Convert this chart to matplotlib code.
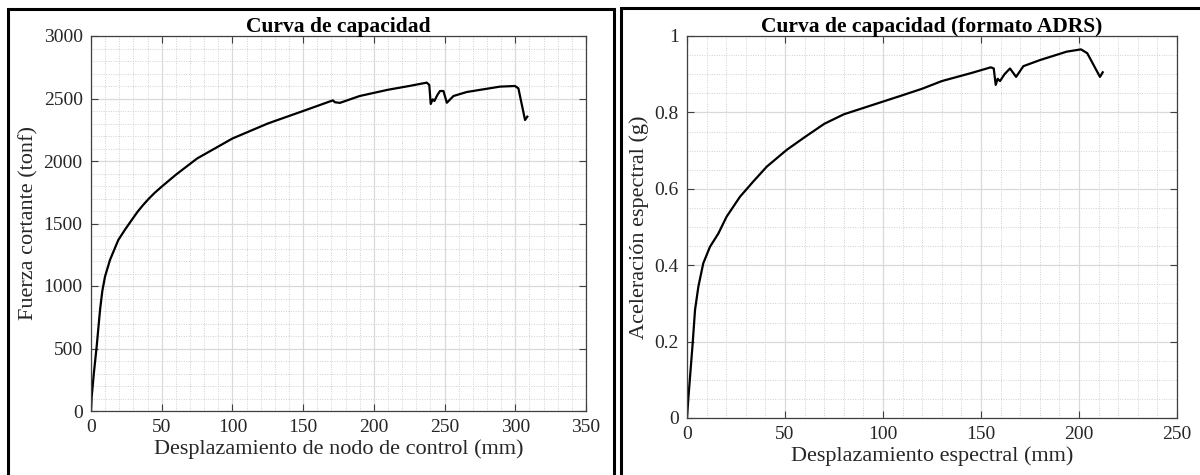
import matplotlib
matplotlib.use("Agg")
import matplotlib.pyplot as plt
from matplotlib.ticker import MultipleLocator, FuncFormatter
from matplotlib.patches import Rectangle

plt.rcParams['font.family'] = ['Liberation Serif', 'DejaVu Serif']

# Capacity curve: roof displacement (mm) vs base shear (tonf)
disp_mm = [0, 0.5, 2, 4, 6.4, 8, 9.9, 13.4, 19.3, 24, 28.8, 33, 37, 41, 45, 50, 60, 75,
           100, 125, 150, 171, 172.5, 176, 190, 210, 225, 237.4, 239.2, 240.2, 241.6,
           242.8, 244.9, 246.8, 249.2, 251.6, 256.3, 265.7, 289.2, 299.8, 302.2,
           306.9, 308.5]
shear_tonf = [0, 115, 300, 515, 810, 960, 1075, 1208, 1368, 1450, 1528, 1595, 1650, 1700,
              1745, 1795, 1890, 2020, 2180, 2300, 2400, 2485, 2470, 2465, 2520, 2570,
              2600, 2627, 2608, 2456, 2493, 2480, 2528, 2560, 2560, 2466, 2520, 2552,
              2595, 2600, 2581, 2328, 2355]

# Capacity curve in ADRS format: spectral displacement (mm) vs spectral acceleration (g)
sd_mm = [0, 0.7, 2.9, 4.1, 5.8, 8.3, 11.7, 16, 20.2, 27, 33.8, 40.7, 50.9, 60, 70, 80,
         95, 110, 120, 130, 145, 155, 156.5, 157.5, 158.5, 159.7, 162, 164.8, 167.9,
         171.6, 180.1, 193.7, 201, 204.2, 210.7, 212.1]
sa_g = [0, 0.052, 0.196, 0.283, 0.344, 0.405, 0.448, 0.483, 0.527, 0.579, 0.619, 0.658,
        0.702, 0.735, 0.77, 0.795, 0.82, 0.845, 0.862, 0.882, 0.903, 0.918, 0.915, 0.872,
        0.888, 0.882, 0.900, 0.915, 0.893, 0.921, 0.937, 0.959, 0.965, 0.955, 0.893, 0.905]

left_xticks = [0, 50, 100, 150, 200, 250, 300, 350]
left_yticks = [0, 500, 1000, 1500, 2000, 2500, 3000]
right_xticks = [0, 50, 100, 150, 200, 250]
right_yticks = [0, 0.2, 0.4, 0.6, 0.8, 1.0]

W, H = 1200, 475
fig = plt.figure(figsize=(W / 100, H / 100), dpi=100)
fig.patch.set_facecolor('white')

# panel frames
fig.patches.append(Rectangle((8 / W, -0.01), (614 - 8) / W, (475 - 9) / H + 0.01,
                             transform=fig.transFigure, fill=False, lw=2.2,
                             edgecolor='black', zorder=0))
fig.patches.append(Rectangle((621 / W, -0.01), (1210 - 621) / W, (475 - 8) / H + 0.01,
                             transform=fig.transFigure, fill=False, lw=2.2,
                             edgecolor='black', zorder=0))

ax1 = fig.add_axes([91 / W, (H - 411) / H, (586 - 91) / W, 375 / H])
ax2 = fig.add_axes([687 / W, (H - 418) / H, (1177 - 687) / W, 382 / H])


def style(ax, minor_steps):
    ax.xaxis.set_minor_locator(MultipleLocator(minor_steps[0]))
    ax.yaxis.set_minor_locator(MultipleLocator(minor_steps[1]))
    ax.grid(which='major', color='#d9d9d9', lw=0.9, ls='-')
    ax.grid(which='minor', color='#d0d0d0', lw=0.7, ls=(0, (1, 1.5)))
    ax.set_axisbelow(True)
    ax.tick_params(which='major', direction='in', length=5, width=0.8,
                   top=True, right=True, labelsize=14, colors='#404040',
                   labelcolor='#262626', pad=6)
    ax.tick_params(which='minor', length=0)
    for sp in ax.spines.values():
        sp.set_color('#404040')
        sp.set_linewidth(0.9)


ax1.plot(disp_mm, shear_tonf, color='black', lw=1.6)
ax1.set_xlim(0, 350)
ax1.set_ylim(0, 3000)
ax1.set_xticks(left_xticks)
ax1.set_yticks(left_yticks)
style(ax1, (10, 100))
ax1.set_title('Curva de capacidad', fontsize=15.5, fontweight='bold', pad=3)
ax1.set_xlabel('Desplazamiento de nodo de control (mm)', fontsize=16, labelpad=2,
               color='#262626')
ax1.set_ylabel('Fuerza cortante (tonf)', fontsize=16, labelpad=4, color='#262626')

ax2.plot(sd_mm, sa_g, color='black', lw=1.6)
ax2.set_xlim(0, 250)
ax2.set_ylim(0, 1)
ax2.set_xticks(right_xticks)
ax2.set_yticks(right_yticks)
ax2.yaxis.set_major_formatter(FuncFormatter(lambda v, p: f'{v:g}'))
style(ax2, (10, 0.05))
ax2.set_title('Curva de capacidad (formato ADRS)', fontsize=15.5, fontweight='bold', pad=3)
ax2.set_xlabel('Desplazamiento espectral (mm)', fontsize=16, labelpad=2, color='#262626')
ax2.set_ylabel('Aceleración espectral (g)', fontsize=16, labelpad=4, color='#262626')

fig.savefig('out.png', dpi=100)
